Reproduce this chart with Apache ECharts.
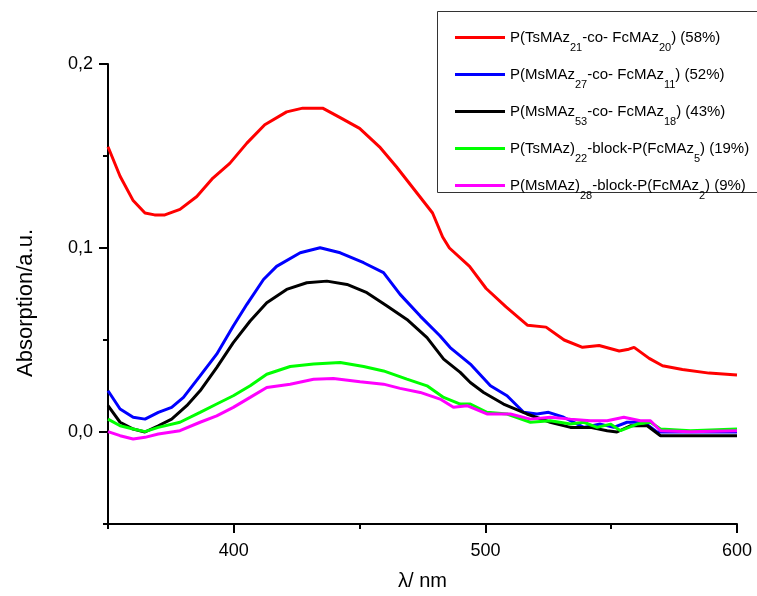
<!DOCTYPE html>
<html>
<head>
<meta charset="utf-8">
<script src="https://cdn.jsdelivr.net/npm/echarts@6/dist/echarts.min.js"></script>
<style>html,body{margin:0;padding:0;background:#fff}#c{width:757px;height:596px}</style>
</head>
<body>
<div id="c"></div>
<script>
// ---- data ----
var seriesNames = [
  'P(TsMAz21-co- FcMAz20) (58%)',
  'P(MsMAz27-co- FcMAz11) (52%)',
  'P(MsMAz53-co- FcMAz18) (43%)',
  'P(TsMAz)22-block-P(FcMAz5) (19%)',
  'P(MsMAz)28-block-P(FcMAz2) (9%)'
];
var legendLabels = [
  'P(TsMAz{s|21}-co- FcMAz{s|20}) (58%)',
  'P(MsMAz{s|27}-co- FcMAz{s|11}) (52%)',
  'P(MsMAz{s|53}-co- FcMAz{s|18}) (43%)',
  'P(TsMAz){s|22}-block-P(FcMAz{s|5}) (19%)',
  'P(MsMAz){s|28}-block-P(FcMAz{s|2}) (9%)'
];
var seriesColors = ['#ff0000', '#0000ff', '#000000', '#00ff00', '#ff00ff'];

var redX = [350, 354.8, 359.9, 364.7, 368.5, 372.6, 378.6, 385.3, 391.7, 398.4, 405.2, 412.3, 421, 427.4, 435.3, 442.1, 450, 457.9, 464.7, 471, 479, 483, 485.7, 493.7, 500.3, 508.2, 516.8, 524.1, 531.3, 538.6, 545.2, 553.2, 557, 559.1, 565.1, 570.4, 578.3, 588.9, 600];
var redY = [0.155, 0.139, 0.126, 0.119, 0.118, 0.118, 0.121, 0.128, 0.138, 0.146, 0.157, 0.167, 0.174, 0.176, 0.176, 0.171, 0.165, 0.155, 0.144, 0.133, 0.119, 0.106, 0.100, 0.090, 0.078, 0.068, 0.058, 0.057, 0.050, 0.046, 0.047, 0.044, 0.045, 0.046, 0.040, 0.036, 0.034, 0.032, 0.031];

var blueX = [350, 354.8, 360, 364.7, 370, 375.3, 380, 386.6, 393.2, 399.8, 405.2, 411.8, 417, 426.4, 434.3, 442.3, 451.6, 459.5, 466.1, 474.1, 482, 486, 494, 502, 508.6, 515.2, 520.5, 525.1, 531.1, 539.1, 545.7, 551, 556.3, 563, 568.2, 578.8, 600];
var blueY = [0.0224, 0.0125, 0.008, 0.007, 0.0107, 0.0134, 0.0188, 0.0305, 0.0423, 0.0576, 0.0694, 0.0829, 0.090, 0.0974, 0.1001, 0.0974, 0.092, 0.0866, 0.0748, 0.063, 0.0522, 0.0459, 0.0369, 0.0251, 0.0197, 0.0107, 0.0098, 0.0107, 0.008, 0.0025, 0.0043, 0.0025, 0.0053, 0.0053, 0.0, 0.0, 0.0];

var blackX = [350, 354.8, 360, 364.7, 370, 375.3, 381.3, 386.6, 393.2, 399.8, 406.5, 413.1, 421, 429, 437, 445, 452.9, 460.9, 468.8, 476.8, 483.4, 490, 494, 499.3, 507.2, 516.5, 525.8, 533.8, 541.7, 548.4, 552.3, 557.6, 564.3, 569.6, 600];
var blackY = [0.0143, 0.0053, 0.0016, 0.0, 0.0034, 0.007, 0.0143, 0.0224, 0.035, 0.0486, 0.0603, 0.0703, 0.0775, 0.0811, 0.082, 0.0802, 0.0757, 0.0685, 0.0612, 0.0513, 0.0396, 0.0324, 0.0269, 0.0215, 0.0152, 0.0098, 0.0053, 0.0025, 0.0025, 0.0007, 0.0, 0.0034, 0.0034, -0.002, -0.002];

var greenX = [350, 354.8, 360, 364.7, 370, 378.6, 386.6, 393.2, 399.8, 406.5, 413.1, 422.4, 431.7, 442.3, 451.6, 459.5, 468.8, 476.8, 483.4, 490, 494, 500.6, 508.6, 517.9, 525.8, 533.8, 539.1, 544.4, 549.7, 553.7, 560.3, 565.6, 569.6, 581.5, 600];
var greenY = [0.007, 0.0034, 0.0016, 0.0002, 0.0025, 0.0053, 0.0107, 0.0152, 0.0197, 0.0251, 0.0314, 0.0356, 0.0369, 0.0378, 0.0356, 0.0332, 0.0287, 0.0251, 0.0188, 0.0152, 0.0152, 0.0107, 0.0098, 0.0053, 0.0061, 0.0043, 0.0053, 0.0025, 0.0043, 0.0007, 0.0043, 0.0053, 0.0016, 0.0007, 0.0016];

var magentaX = [350, 354.8, 360, 364.7, 370, 378.6, 386.6, 393.2, 399.8, 406.5, 413.1, 422.4, 431.7, 439.6, 450.2, 459.5, 466.1, 474.1, 482, 487.3, 492.7, 500.6, 509.9, 517.9, 525.8, 533.8, 541.7, 548.4, 555, 561.6, 565.6, 569.6, 581.5, 600];
var magentaY = [0.0002, -0.002, -0.0038, -0.0029, -0.0011, 0.0007, 0.0053, 0.0088, 0.0134, 0.0188, 0.0242, 0.026, 0.0287, 0.0291, 0.0273, 0.026, 0.0237, 0.0215, 0.0179, 0.0134, 0.0143, 0.0098, 0.0098, 0.007, 0.008, 0.007, 0.0061, 0.0061, 0.008, 0.0061, 0.0061, 0.0007, 0.0002, 0.0007];

var xMajorTicks = [400, 500, 600];
var xMinorTicks = [350, 450, 550];
var yMajorTicks = [0, 0.1, 0.2];
var yMinorTicks = [-0.05, 0.05, 0.15];

// ---- chart ----
var allX = [redX, blueX, blackX, greenX, magentaX];
var allY = [redY, blueY, blackY, greenY, magentaY];
function pairs(xs, ys) { return xs.map(function (x, i) { return [x, ys[i]]; }); }

var FONT = '"Liberation Sans", Arial, sans-serif';
var chart = echarts.init(document.getElementById('c'), null, { renderer: 'canvas' });
var series = seriesNames.map(function (n, i) {
  return {
    name: n, type: 'line', data: pairs(allX[i], allY[i]),
    showSymbol: false, symbol: 'none', smooth: false,
    lineStyle: { color: seriesColors[i], width: 3 },
    itemStyle: { color: seriesColors[i] },
    xAxisIndex: 0, yAxisIndex: 0, animation: false
  };
});

var axisLineStyle = { color: '#000', width: 2 };
chart.setOption({
  animation: false,
  backgroundColor: '#fff',
  grid: { left: 108, right: 20, top: 64, bottom: 70.5, containLabel: false },
  graphic: [{
    type: 'rect', z: 0,
    shape: { x: 437.5, y: 11.5, width: 330, height: 181 },
    style: { fill: 'none', stroke: '#333', lineWidth: 1 }
  }],
  legend: {
    orient: 'vertical', left: 455, top: 22,
    padding: 0,
    itemWidth: 50, itemHeight: 3, itemGap: 6,
    icon: 'rect',
    data: seriesNames,
    formatter: function (name) { return legendLabels[seriesNames.indexOf(name)]; },
    textStyle: {
      fontFamily: FONT, fontSize: 15, color: '#000', lineHeight: 15,
      rich: { s: { fontFamily: FONT, fontSize: 11, color: '#000', lineHeight: 15, padding: [20, 0, 0, 0] } }
    }
  },
  xAxis: [{
    type: 'value', min: 350, max: 600, position: 'bottom',
    name: 'λ/ nm', nameLocation: 'middle', nameGap: 47,
    nameTextStyle: { fontFamily: FONT, fontSize: 20, color: '#000' },
    axisLine: { show: true, onZero: false, lineStyle: axisLineStyle },
    axisTick: { show: true, customValues: xMajorTicks, length: 9, lineStyle: axisLineStyle },
    axisLabel: { customValues: xMajorTicks, fontFamily: FONT, fontSize: 18, color: '#000', margin: 18 },
    splitLine: { show: false }
  }, {
    type: 'value', min: 350, max: 600, position: 'bottom',
    axisLine: { show: false, onZero: false },
    axisTick: { show: true, customValues: xMinorTicks, length: 5, lineStyle: axisLineStyle },
    axisLabel: { show: false },
    splitLine: { show: false }
  }],
  yAxis: [{
    type: 'value', min: -0.05, max: 0.2, position: 'left',
    name: 'Absorption/a.u.', nameLocation: 'middle', nameGap: 71, nameRotate: 90,
    nameTextStyle: { fontFamily: FONT, fontSize: 22, color: '#000', padding: [0, 18, 0, 0] },
    axisLine: { show: true, onZero: false, lineStyle: axisLineStyle },
    axisTick: { show: true, customValues: yMajorTicks, length: 9, lineStyle: axisLineStyle },
    axisLabel: {
      customValues: yMajorTicks, fontFamily: FONT, fontSize: 18, color: '#000', margin: 15,
      formatter: function (v) { return v.toFixed(1).replace('.', ','); }
    },
    splitLine: { show: false }
  }, {
    type: 'value', min: -0.05, max: 0.2, position: 'left',
    axisLine: { show: false, onZero: false },
    axisTick: { show: true, customValues: yMinorTicks, length: 5, lineStyle: axisLineStyle },
    axisLabel: { show: false },
    splitLine: { show: false }
  }],
  series: series
});
</script>
</body>
</html>
